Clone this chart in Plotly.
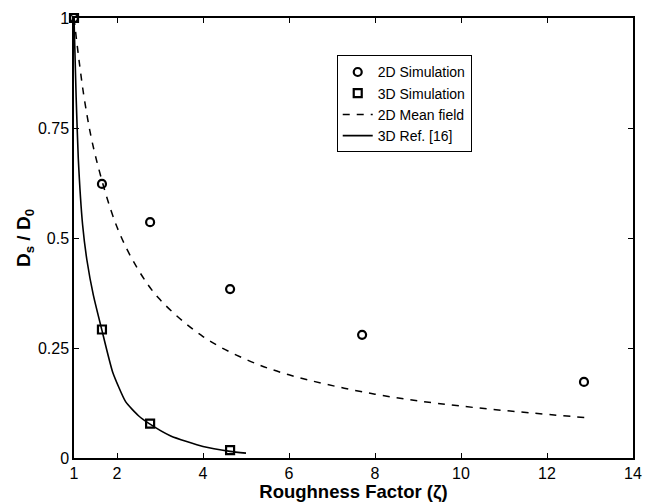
import plotly.graph_objects as go

# 2D simulation points
sim2d_x = [1.0, 1.65, 2.77, 4.63, 7.70, 12.86]
sim2d_y = [1.0, 0.623, 0.536, 0.384, 0.280, 0.173]

# 3D simulation points
sim3d_x = [1.0, 1.65, 2.77, 4.63]
sim3d_y = [1.0, 0.292, 0.078, 0.018]

# 2D mean field (dashed)
mf_x = [1.0, 1.25, 1.5, 2.0, 2.5, 3.0, 4.0, 5.0, 6.0, 8.0, 10.0, 13.0]
mf_y = [1.0, 0.81, 0.686, 0.525, 0.427, 0.36, 0.276, 0.224, 0.189, 0.145, 0.118, 0.091]

# 3D Ref. [16] (solid)
ref_x = [1.0, 1.05, 1.1, 1.2, 1.3, 1.45, 1.65, 1.9, 2.2, 2.5, 2.75, 3.25, 4.0, 4.63, 5.0]
ref_y = [1.0, 0.82, 0.68, 0.53, 0.45, 0.37, 0.29, 0.195, 0.128, 0.096, 0.078, 0.050, 0.026, 0.015, 0.011]

x_ticks = [1, 2, 4, 6, 8, 10, 12, 14]
y_ticks = [0, 0.25, 0.5, 0.75, 1]
y_ticklabels = ["0", "0.25", "0.5", "0.75", "1"]

font_family = "Liberation Sans, Arial, Helvetica, sans-serif"

fig = go.Figure()
fig.add_trace(go.Scatter(
    x=sim2d_x, y=sim2d_y, mode="markers", name="2D Simulation",
    marker=dict(symbol="circle-open", size=8, color="black", line=dict(width=2.2, color="black")),
    cliponaxis=False,
))
fig.add_trace(go.Scatter(
    x=sim3d_x, y=sim3d_y, mode="markers", name="3D Simulation",
    marker=dict(symbol="square-open", size=8, color="black", line=dict(width=2.2, color="black")),
    cliponaxis=False,
))
fig.add_trace(go.Scatter(
    x=mf_x, y=mf_y, mode="lines", name="2D Mean field",
    line=dict(color="black", width=1.5, dash="7px,7px", shape="spline", smoothing=1.0),
))
fig.add_trace(go.Scatter(
    x=ref_x, y=ref_y, mode="lines", name="3D Ref. [16]",
    line=dict(color="black", width=1.6, shape="spline", smoothing=0.5),
))

axis_common = dict(
    showline=True, linecolor="black", linewidth=1.5, mirror="ticks",
    ticks="inside", ticklen=5, tickwidth=1, tickcolor="black",
    showgrid=False, zeroline=False, automargin=False,
    tickfont=dict(family=font_family, size=16, color="black"),
)

fig.update_xaxes(
    range=[1, 14], tickvals=x_ticks, ticktext=[str(t) for t in x_ticks],
    title=dict(text="<b>Roughness Factor (ζ)</b>", font=dict(family=font_family, size=18.5, color="black"), standoff=0),
    **axis_common,
)
fig.update_yaxes(
    range=[0, 1], tickvals=y_ticks, ticktext=y_ticklabels,
    title=dict(text="<b>D<sub>s</sub> / D<sub>0</sub></b>", font=dict(family=font_family, size=19, color="black"), standoff=2),
    **axis_common,
)

fig.update_layout(
    width=646, height=495,
    margin=dict(l=66, r=21, t=10, b=45),
    paper_bgcolor="white", plot_bgcolor="white",
    font=dict(family=font_family, color="black"),
    showlegend=True,
    legend=dict(
        x=0.47, y=0.915, xanchor="left", yanchor="top",
        bordercolor="black", borderwidth=1, bgcolor="white",
        font=dict(family=font_family, size=14, color="black"),
        tracegroupgap=0, itemwidth=30,
    ),
)

fig.write_html("out.html")
